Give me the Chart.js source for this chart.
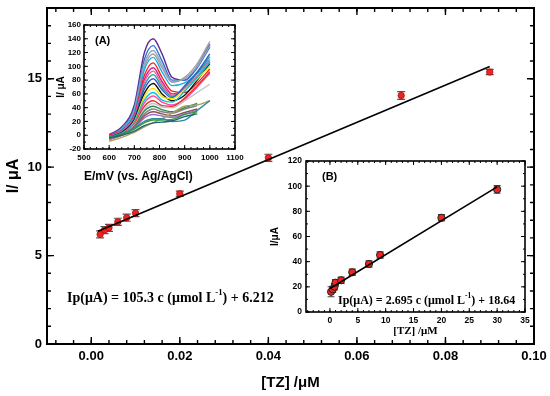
<!DOCTYPE html>
<html><head><meta charset="utf-8">
<script src="https://cdn.jsdelivr.net/npm/chart.js@4.4.1/dist/chart.umd.min.js"></script>
<style>
html,body{margin:0;padding:0;background:#fff;}
#wrap{position:relative;width:550px;height:396px;overflow:hidden;background:#fff;}
#wrap canvas{position:absolute;left:0;top:0;}
</style></head><body>
<div id="wrap">
<canvas id="cMain" width="550" height="396"></canvas>
<canvas id="cA" width="550" height="396"></canvas>
<canvas id="cB" width="550" height="396"></canvas>
</div>
<script>
// ===== Main calibration plot =====
const mainConc    = [0.002, 0.003, 0.004, 0.006, 0.008, 0.010, 0.020, 0.040, 0.070, 0.090];
const mainCurrent = [6.20, 6.44, 6.57, 6.91, 7.14, 7.40, 8.50, 10.53, 14.05, 15.38];
const mainErr     = [0.20, 0.20, 0.20, 0.20, 0.20, 0.20, 0.15, 0.20, 0.22, 0.15];
const mainSlope = 105.3, mainIntercept = 6.212;
const mainFitFrom = 0.0015, mainFitTo = 0.090;
const mainXTicks = [0.00, 0.02, 0.04, 0.06, 0.08, 0.10];
const mainYTicks = [0, 5, 10, 15];

// ===== Inset B: wide range calibration =====
const bConc    = [0.2, 0.5, 0.8, 1, 2, 4, 7, 9, 20, 30];
const bCurrent = [16.1, 18.0, 20.1, 23.3, 25.2, 31.6, 38.2, 45.3, 74.9, 97.4];
const bErr     = [4.0, 2.5, 2.5, 2.5, 2.5, 2.5, 2.5, 2.5, 2.5, 3.0];
const bSlope = 2.695, bIntercept = 18.64;
const bFitFrom = 0, bFitTo = 30;
const bXTicks = [0, 5, 10, 15, 20, 25, 30, 35];
const bYTicks = [0, 20, 40, 60, 80, 100, 120];

// ===== Inset A: voltammograms =====
const potential = [600, 650, 700, 740, 775, 810, 850, 900, 950, 1000];
const aXTicks = [500, 600, 700, 800, 900, 1000, 1100];
const aYTicks = [-20, 0, 20, 40, 60, 80, 100, 120, 140, 160];
const curve01 = [1, 12, 44, 120, 140, 118, 84, 80, 100, 132];
const curve02 = [0, 10, 40, 110, 130, 108, 80, 80, 98, 128];
const curve03 = [-1, 9, 37, 104, 123, 102, 78, 82, 100, 130];
const curve04 = [-1, 8, 35, 99, 118, 98, 77, 84, 104, 136];
const curve05 = [-2, 8, 33, 95, 113, 92, 72, 76, 90, 110];
const curve06 = [0, 7, 30, 87, 105, 84, 64, 62, 76, 96];
const curve07 = [-1, 6, 28, 81, 98, 78, 60, 66, 84, 106];
const curve08 = [-2, 6, 27, 77, 93, 74, 58, 68, 86, 108];
const curve09 = [-2, 5, 25, 72, 88, 70, 56, 70, 90, 114];
const curve10 = [-3, 4, 24, 67, 82, 66, 54, 72, 92, 118];
const curve11 = [-3, 4, 22, 61, 75, 60, 50, 58, 80, 104];
const curve12 = [-8, 1, 20, 56, 68, 56, 53, 66, 82, 100];
const curve13 = [-3, 3, 19, 51, 62, 51, 48, 64, 84, 106];
const curve14 = [-4, 2, 17, 47, 57, 48, 44, 52, 70, 90];
const curve15 = [-5, 2, 15, 42, 50, 43, 42, 54, 72, 92];
const curve16 = [-5, 1, 14, 38, 46, 41, 40, 50, 62, 74];
const curve17 = [-5, 1, 13, 35, 42, 37, 34, 40, 46, null];
const curve18 = [-5, 0, 12, 31, 38, 34, 32, 38, 43, null];
const curve19 = [-6, 0, 11, 28, 34, 31, 28, 33, 38, null];
const curve20 = [-6, 0, 10, 25, 30, 28, 26, 31, 36, null];
const curve21 = [-9, -3, 4, 12, 18, 24, 32, 42, 44, 50];
const curve22 = [-3, 2, 10, 20, 24, 24, 20, 22, 36, 50];
const curve23 = [-4, 1, 9, 18, 22, 22, 23, 30, 34, null];
const curve24 = [-4, 0, 6, 14, 18, 19, 21, 27, 31, null];
const curveColors = ['#5b2a92','#2f6fd0','#8fa6c8','#a0a0a0','#1ab0e8','#f22525','#d4208a','#f0609e',
  '#1f9e98','#3a56c8','#111111','#f2e600','#00c4dc','#ff4d9d','#e83030','#c4c4c4',
  '#2e8b57','#808080','#8b4f5a','#9a72c8','#a89f5a','#2a8a9e','#3a9a3a','#20607a'];
const curves = [curve01,curve02,curve03,curve04,curve05,curve06,curve07,curve08,curve09,curve10,curve11,curve12,
  curve13,curve14,curve15,curve16,curve17,curve18,curve19,curve20,curve21,curve22,curve23,curve24];

// ===== helpers / plugins =====
Chart.defaults.font.family = 'Arial, "Liberation Sans", sans-serif';
Chart.defaults.color = '#000';

const frameTicks = {
  id: 'frameTicks',
  afterDraw(chart, args, o) {
    const {ctx, chartArea: a, scales: {x, y}} = chart;
    ctx.save();
    ctx.strokeStyle = '#000';
    ctx.lineWidth = o.tickWidth;
    const run = (sc, step, len, horiz) => {
      for (let i = Math.ceil(sc.min / step - 1e-6); i * step <= sc.max + 1e-9; i++) {
        const p = sc.getPixelForValue(i * step);
        ctx.beginPath();
        if (horiz) {
          ctx.moveTo(p, a.bottom); ctx.lineTo(p, a.bottom - len);
          ctx.moveTo(p, a.top); ctx.lineTo(p, a.top + len);
        } else {
          ctx.moveTo(a.left, p); ctx.lineTo(a.left + len, p);
          ctx.moveTo(a.right, p); ctx.lineTo(a.right - len, p);
        }
        ctx.stroke();
      }
    };
    run(x, o.xMinor, o.minorLen, true);
    run(x, o.xMajor, o.majorLen, true);
    run(y, o.yMinor, o.minorLen, false);
    run(y, o.yMajor, o.majorLen, false);
    ctx.lineWidth = o.border;
    ctx.strokeRect(a.left, a.top, a.right - a.left, a.bottom - a.top);
    ctx.restore();
  }
};

const errorBars = {
  id: 'errorBars',
  beforeDatasetsDraw(chart, args, o) {
    const {ctx, scales: {y}} = chart;
    chart.data.datasets.forEach((ds, di) => {
      if (!ds.errors) return;
      const meta = chart.getDatasetMeta(di);
      ctx.save();
      ctx.strokeStyle = o.color; ctx.lineWidth = o.width;
      meta.data.forEach((pt, i) => {
        const v = ds.data[i].y, e = ds.errors[i];
        const y1 = y.getPixelForValue(v + e), y2 = y.getPixelForValue(v - e);
        ctx.beginPath();
        ctx.moveTo(pt.x, y1); ctx.lineTo(pt.x, y2);
        ctx.moveTo(pt.x - o.cap, y1); ctx.lineTo(pt.x + o.cap, y1);
        ctx.moveTo(pt.x - o.cap, y2); ctx.lineTo(pt.x + o.cap, y2);
        ctx.stroke();
      });
      ctx.restore();
    });
  }
};

const notes = {
  id: 'notes',
  afterDraw(chart, args, o) {
    const ctx = chart.ctx;
    ctx.save();
    ctx.fillStyle = '#000';
    ctx.textBaseline = 'middle';
    (o.items || []).forEach(it => {
      let x = it.x;
      it.parts.forEach(p => {
        const size = p.sup ? it.size * 0.62 : it.size;
        ctx.font = `bold ${size}px ${it.family}`;
        ctx.fillText(p.t, x, p.sup ? it.y - it.size * 0.38 : it.y);
        x += ctx.measureText(p.t).width;
      });
    });
    ctx.restore();
  }
};

function fixAxis(w, h) {
  return function (s) {
    if (w !== undefined) s.width = w;
    if (h !== undefined) s.height = h;
    s.paddingLeft = 0; s.paddingRight = 0; s.paddingTop = 0; s.paddingBottom = 0;
  };
}
function setTicks(arr) { return s => { s.ticks = arr.map(v => ({value: v})); }; }
function pts(xs, ys) { return xs.map((x, i) => ({x, y: ys[i]})); }

const noGrid = {display: false, drawTicks: false};
const noBorder = {display: false};
const tickBase = {maxRotation: 0, minRotation: 0, autoSkip: false};

// ===== Main chart =====
new Chart(document.getElementById('cMain'), {
  type: 'scatter',
  data: {
    datasets: [
      {type: 'line', data: [{x: mainFitFrom, y: mainSlope * mainFitFrom + mainIntercept},
                            {x: mainFitTo, y: mainSlope * mainFitTo + mainIntercept}],
       borderColor: '#000', borderWidth: 1.6, pointRadius: 0, fill: false},
      {data: pts(mainConc, mainCurrent), errors: mainErr, pointRadius: 3.2,
       backgroundColor: '#f2231f', borderColor: '#b01010', borderWidth: 0.8}
    ]
  },
  options: {
    responsive: false, animation: false, events: [],
    layout: {padding: {left: 0, right: 16, top: 8, bottom: 0}},
    plugins: {
      legend: {display: false}, tooltip: {enabled: false},
      frameTicks: {xMajor: 0.02, xMinor: 0.004, yMajor: 5, yMinor: 1, majorLen: 7, minorLen: 4, tickWidth: 1.4, border: 2},
      errorBars: {color: '#555', width: 1.2, cap: 4},
      notes: {items: [{x: 67, y: 298, size: 14, family: '"Liberation Serif", "Times New Roman", serif',
        parts: [{t: 'Ip(\u03bcA) = 105.3 c (\u03bcmol L'}, {t: '-1', sup: true}, {t: ') + 6.212'}]}]}
    },
    scales: {
      x: {type: 'linear', min: -0.01, max: 0.10, grid: noGrid, border: noBorder,
          afterBuildTicks: setTicks(mainXTicks), afterFit: fixAxis(undefined, 52),
          ticks: {...tickBase, padding: 5, font: {size: 13, weight: 'bold'}, callback: v => v.toFixed(2)},
          title: {display: true, text: '[TZ] /\u03bcM', font: {size: 15, weight: 'bold'}, padding: {top: 0, bottom: 4}}},
      y: {type: 'linear', min: 0, max: 19, grid: noGrid, border: noBorder,
          afterBuildTicks: setTicks(mainYTicks), afterFit: fixAxis(47, undefined),
          ticks: {...tickBase, padding: 5, font: {size: 13, weight: 'bold'}, callback: v => String(v)},
          title: {display: true, text: 'I/ \u03bcA', font: {size: 16, weight: 'bold'}, padding: {top: 4, bottom: 0}}}
    }
  },
  plugins: [frameTicks, errorBars, notes]
});

// ===== Inset A =====
new Chart(document.getElementById('cA'), {
  type: 'line',
  data: {
    datasets: curves.map((c, i) => ({
      data: pts(potential, c), borderColor: curveColors[i], borderWidth: 1.4,
      pointRadius: 0, fill: false, cubicInterpolationMode: 'monotone', spanGaps: false
    })).reverse()
  },
  options: {
    responsive: false, animation: false, events: [],
    layout: {padding: {left: 54, right: 315, top: 25, bottom: 211}},
    plugins: {
      legend: {display: false}, tooltip: {enabled: false},
      frameTicks: {xMajor: 100, xMinor: 25, yMajor: 20, yMinor: 10, majorLen: 4, minorLen: 2, tickWidth: 1, border: 1.6},
      notes: {items: [{x: 95, y: 41, size: 11, family: 'Arial, "Liberation Sans", sans-serif', parts: [{t: '(A)'}]}]}
    },
    scales: {
      x: {type: 'linear', min: 500, max: 1100, grid: noGrid, border: noBorder,
          afterBuildTicks: setTicks(aXTicks), afterFit: fixAxis(undefined, 36),
          ticks: {...tickBase, padding: 4, font: {size: 8, weight: 'bold'}, callback: v => String(v)},
          title: {display: true, text: 'E/mV (vs. Ag/AgCl)', align: 'start', font: {size: 12, weight: 'bold'}, padding: {top: 0, bottom: 1}}},
      y: {type: 'linear', min: -20, max: 160, grid: noGrid, border: noBorder,
          afterBuildTicks: setTicks(aYTicks), afterFit: fixAxis(30, undefined),
          ticks: {...tickBase, padding: 3, font: {size: 8, weight: 'bold'}, callback: v => String(v)},
          title: {display: true, text: 'I/ \u03bcA', font: {size: 10, weight: 'bold'}, padding: {top: 1, bottom: 0}}}
    }
  },
  plugins: [frameTicks, notes]
});

// ===== Inset B =====
new Chart(document.getElementById('cB'), {
  type: 'scatter',
  data: {
    datasets: [
      {type: 'line', data: [{x: bFitFrom, y: bSlope * bFitFrom + bIntercept},
                            {x: bFitTo, y: bSlope * bFitTo + bIntercept}],
       borderColor: '#000', borderWidth: 1.6, pointRadius: 0, fill: false},
      {data: pts(bConc, bCurrent), errors: bErr, pointRadius: 3.6,
       backgroundColor: '#f2231f', borderColor: '#222', borderWidth: 1}
    ]
  },
  options: {
    responsive: false, animation: false, events: [],
    layout: {padding: {left: 266, right: 25, top: 161, bottom: 54}},
    plugins: {
      legend: {display: false}, tooltip: {enabled: false},
      frameTicks: {xMajor: 5, xMinor: 1, yMajor: 20, yMinor: 10, majorLen: 4, minorLen: 2, tickWidth: 1, border: 1.6},
      errorBars: {color: '#444', width: 1.1, cap: 3.5},
      notes: {items: [
        {x: 322, y: 177, size: 11, family: 'Arial, "Liberation Sans", sans-serif', parts: [{t: '(B)'}]},
        {x: 338, y: 301, size: 12, family: '"Liberation Serif", "Times New Roman", serif',
         parts: [{t: 'Ip(\u03bcA) = 2.695 c (\u03bcmol L'}, {t: '-1', sup: true}, {t: ') + 18.64'}]}
      ]}
    },
    scales: {
      x: {type: 'linear', min: -4.3, max: 35, grid: noGrid, border: noBorder,
          afterBuildTicks: setTicks(bXTicks), afterFit: fixAxis(undefined, 30),
          ticks: {...tickBase, padding: 4, font: {size: 8.5, weight: 'bold'}, callback: v => String(v)},
          title: {display: true, text: '[TZ] /\u03bcM', font: {size: 11, weight: 'bold', family: '"Liberation Serif", "Times New Roman", serif'}, padding: {top: 0, bottom: 4}}},
      y: {type: 'linear', min: 0, max: 120, grid: noGrid, border: noBorder,
          afterBuildTicks: setTicks(bYTicks), afterFit: fixAxis(40, undefined),
          ticks: {...tickBase, padding: 4, font: {size: 8.5, weight: 'bold'}, callback: v => String(v)},
          title: {display: true, text: 'I/\u03bcA', font: {size: 10, weight: 'bold'}, padding: {top: 3.5, bottom: 0}}}
    }
  },
  plugins: [frameTicks, errorBars, notes]
});
</script>
</body></html>
